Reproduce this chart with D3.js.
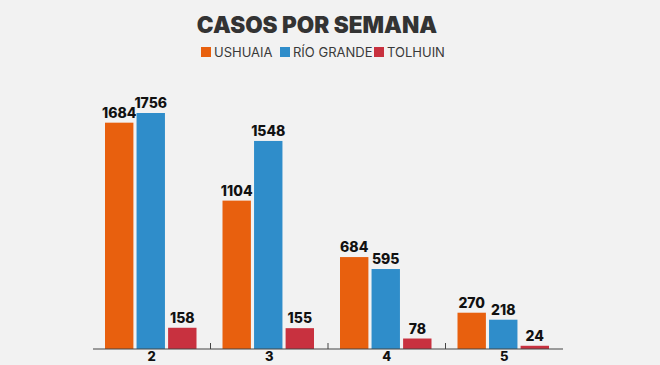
<!DOCTYPE html>
<html><head><meta charset="utf-8">
<script src="https://cdn.jsdelivr.net/npm/d3@7"></script>
<style>
html,body{margin:0;padding:0;background:#f2f2f2;}
svg{display:block;}
</style></head>
<body>
<svg id="chart" width="660" height="365"></svg>
<script>
const weeks = ["2", "3", "4", "5"];
const seriesNames = ["USHUAIA", "RÍO GRANDE", "TOLHUIN"];
const ushuaia = [1684, 1104, 684, 270];
const rioGrande = [1756, 1548, 595, 218];
const tolhuin = [158, 155, 78, 24];
const colors = ["#e8600e", "#2f8dca", "#c8313f"];
const title = "CASOS POR SEMANA";

const series = [ushuaia, rioGrande, tolhuin];
const svg = d3.select("#chart");
const W = 660, H = 365;
svg.append("rect").attr("width", W).attr("height", H).attr("fill", "#f2f2f2");

const x0 = d3.scaleBand().domain(weeks).range([93, 563]).paddingInner(0).paddingOuter(0);
const x1 = d3.scaleBand().domain(seriesNames).range([12, x0.bandwidth() - 14]).paddingInner(0.1).paddingOuter(0);
const y = d3.scaleLinear().domain([0, 1756]).range([349, 113]);

// title
svg.append("text").attr("x", 317).attr("y", 33).attr("text-anchor", "middle")
  .attr("font-family", "Inter, Roboto, sans-serif").attr("font-weight", 900)
  .attr("font-size", 22.5).attr("fill", "#333").text(title);

// legend
const legendX = [201, 280, 374];
const lg = svg.append("g");
seriesNames.forEach((n, i) => {
  const g = lg.append("g").attr("transform", `translate(${legendX[i]},47)`);
  g.append("rect").attr("width", 10).attr("height", 10).attr("fill", colors[i]);
  g.append("text").attr("x", 13).attr("y", 10).attr("font-family", "Inter, Roboto, sans-serif")
    .attr("font-size", 13).attr("fill", "#3a3a3a").text(n);
});

// bars
const groups = svg.append("g").selectAll("g").data(weeks).join("g")
  .attr("transform", d => `translate(${x0(d)},0)`);
groups.each(function(w, wi) {
  const g = d3.select(this);
  seriesNames.forEach((n, si) => {
    const v = series[si][wi];
    g.append("rect").attr("x", x1(n)).attr("width", x1.bandwidth())
      .attr("y", y(v)).attr("height", y(0) - y(v)).attr("fill", colors[si]);
    g.append("text").attr("x", x1(n) + x1.bandwidth() / 2).attr("y", y(v) - 5)
      .attr("text-anchor", "middle").attr("font-family", "Inter, Roboto, sans-serif")
      .attr("font-weight", 800).attr("font-size", 14).attr("fill", "#111").text(v);
  });
});

// axis
const ax = svg.append("g").attr("transform", "translate(0,349)");
ax.append("line").attr("x1", 93).attr("x2", 563).attr("stroke", "#444").attr("stroke-width", 1);
weeks.slice(1).forEach(w => {
  ax.append("line").attr("x1", x0(w)).attr("x2", x0(w)).attr("y1", 0).attr("y2", -6)
    .attr("stroke", "#444").attr("stroke-width", 1);
});
weeks.forEach(w => {
  ax.append("text").attr("x", x0(w) + x0.bandwidth() / 2).attr("y", 12)
    .attr("text-anchor", "middle").attr("font-family", "Inter, Roboto, sans-serif")
    .attr("font-weight", 800).attr("font-size", 13).attr("fill", "#111").text(w);
});
</script>
</body></html>
